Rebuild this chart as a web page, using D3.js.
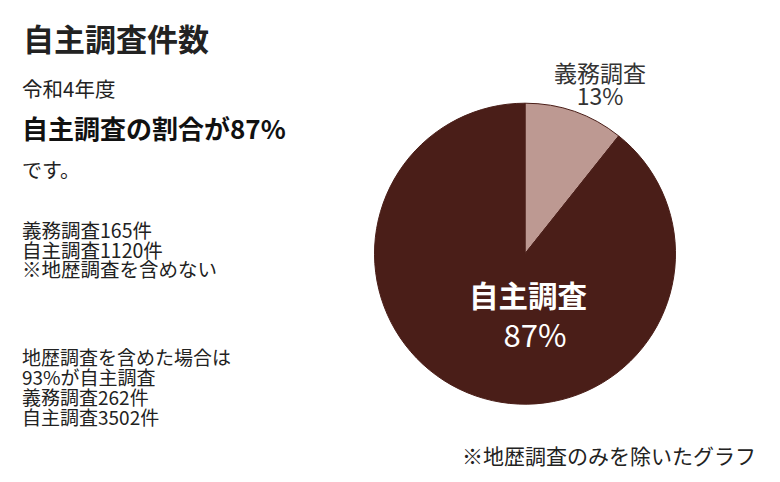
<!DOCTYPE html>
<html><head><meta charset="utf-8">
<script src="https://cdn.jsdelivr.net/npm/d3@7/dist/d3.min.js"></script>
<style>
html,body{margin:0;padding:0;background:#fff;}
svg{display:block;font-family:"Noto Sans CJK JP","Noto Sans",sans-serif;}
</style></head>
<body><svg id="c" width="780" height="482"></svg>
<script>
// Data
const categories = ["義務調査", "自主調査"];
const counts = [165, 1120];                 // 件数 (令和4年度, 地歴調査を除く)
const shares = [10.7, 89.3];               // slice sizes as drawn in the picture
const percentLabels = ["13%", "87%"];
const colors = ["#bd9992", "#4a1e18"];

const title = "自主調査件数";
const introLines = ["令和4年度", "自主調査の割合が87%", "です。"];
const block1 = ["義務調査165件", "自主調査1120件", "※地歴調査を含めない"];
const block2 = ["地歴調査を含めた場合は", "93%が自主調査", "義務調査262件", "自主調査3502件"];
const footnote = "※地歴調査のみを除いたグラフ";

const svg = d3.select("#c");
const txt = "#222";

svg.append("text").attr("x", 23).attr("y", 51).attr("font-size", 31).attr("font-weight", 700)
  .attr("fill", txt).text(title);
svg.append("text").attr("x", 22).attr("y", 97).attr("font-size", 20.5).attr("fill", txt).text(introLines[0]);
svg.append("text").attr("x", 22).attr("y", 139).attr("font-size", 26).attr("font-weight", 700).attr("fill", "#111").text(introLines[1]);
svg.append("text").attr("x", 22).attr("y", 178).attr("font-size", 20).attr("fill", txt).text(introLines[2]);

block1.forEach((t, i) => svg.append("text").attr("x", 22).attr("y", 238 + i * 19.7)
  .attr("font-size", 19.5).attr("fill", txt).text(t));
block2.forEach((t, i) => svg.append("text").attr("x", 22).attr("y", 365 + i * 20)
  .attr("font-size", 19).attr("fill", txt).text(t));

// Pie
const cx = 525, cy = 253.7, r = 150.5;
const pie = d3.pie().sort(null).value(d => d)(shares);
const arc = d3.arc().innerRadius(0).outerRadius(r);
const g = svg.append("g").attr("transform", `translate(${cx},${cy})`);
g.selectAll("path").data(pie).join("path")
  .attr("d", arc).attr("fill", (d, i) => colors[i])
  .attr("stroke", colors[1]).attr("stroke-width", 1);

// Labels
svg.append("text").attr("x", 600).attr("y", 82).attr("text-anchor", "middle")
  .attr("font-size", 23).attr("fill", "#333").text(categories[0]);
svg.append("text").attr("x", 600).attr("y", 105).attr("text-anchor", "middle")
  .attr("font-size", 23).attr("fill", "#333").text(percentLabels[0]);
svg.append("text").attr("x", 528).attr("y", 307).attr("text-anchor", "middle")
  .attr("font-size", 29.5).attr("font-weight", 700).attr("fill", "#fff").text(categories[1]);
svg.append("text").attr("x", 535).attr("y", 347).attr("text-anchor", "middle")
  .attr("font-size", 31).attr("fill", "#fff").text(percentLabels[1]);

svg.append("text").attr("x", 462).attr("y", 464).attr("font-size", 21).attr("fill", txt).text(footnote);
</script></body></html>
